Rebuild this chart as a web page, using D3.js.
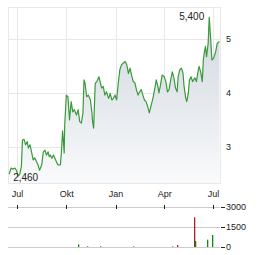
<!DOCTYPE html>
<html><head><meta charset="utf-8">
<script src="https://cdn.jsdelivr.net/npm/d3@7"></script>
<style>
body{margin:0;background:#fff}
svg{display:block;font-family:"Liberation Sans",Arial,sans-serif}
</style></head>
<body><svg id="c" width="264" height="255"></svg>
<script>
const priceDates = ["2023-06-16","2023-06-20","2023-06-23","2023-06-27","2023-06-30","2023-07-03","2023-07-06","2023-07-09","2023-07-11","2023-07-14",
"2023-07-17","2023-07-20","2023-07-22","2023-07-25","2023-07-28","2023-07-31","2023-08-03","2023-08-06","2023-08-09","2023-08-12",
"2023-08-16","2023-08-19","2023-08-22","2023-08-25","2023-08-28","2023-08-30","2023-09-01","2023-09-04","2023-09-07","2023-09-11",
"2023-09-15","2023-09-20","2023-09-22","2023-09-24","2023-09-25","2023-09-27","2023-09-28","2023-10-01","2023-10-04","2023-10-07",
"2023-10-10","2023-10-13","2023-10-16","2023-10-20","2023-10-23","2023-10-26","2023-10-29","2023-11-01","2023-11-03","2023-11-05",
"2023-11-08","2023-11-11","2023-11-15","2023-11-18","2023-11-19","2023-11-21","2023-11-24","2023-11-27","2023-12-01","2023-12-03",
"2023-12-06","2023-12-09","2023-12-12","2023-12-15","2023-12-19","2023-12-22","2023-12-25","2023-12-28","2023-12-31","2024-01-03",
"2024-01-06","2024-01-09","2024-01-12","2024-01-15","2024-01-19","2024-01-22","2024-01-25","2024-01-28","2024-01-31","2024-02-03",
"2024-02-06","2024-02-09","2024-02-12","2024-02-15","2024-02-18","2024-02-21","2024-02-24","2024-02-27","2024-03-01","2024-03-04",
"2024-03-07","2024-03-11","2024-03-15","2024-03-17","2024-03-20","2024-03-22","2024-03-25","2024-03-28","2024-04-01","2024-04-04",
"2024-04-07","2024-04-10","2024-04-13","2024-04-16","2024-04-19","2024-04-22","2024-04-25","2024-04-27","2024-04-30","2024-05-03",
"2024-05-06","2024-05-08","2024-05-11","2024-05-13","2024-05-16","2024-05-18","2024-05-21","2024-05-24","2024-05-28","2024-05-31",
"2024-06-03","2024-06-05","2024-06-08","2024-06-11","2024-06-13","2024-06-15","2024-06-17","2024-06-19","2024-06-22","2024-06-24",
"2024-06-27","2024-06-29","2024-07-02","2024-07-06","2024-07-09","2024-07-13"];
const priceValues = [2.50,2.61,2.59,2.61,2.56,2.46,2.50,2.64,3.13,3.14,
3.04,3.10,2.98,3.04,2.91,2.76,2.80,2.73,2.67,2.57,
2.67,2.91,2.94,2.85,2.91,2.82,2.85,2.79,2.85,2.76,
2.67,2.67,2.94,3.30,3.17,2.89,3.41,3.96,3.93,3.50,
3.84,3.65,3.69,3.59,3.69,3.47,3.44,3.62,4.24,4.18,
3.93,3.96,3.87,3.62,3.47,3.35,4.18,4.21,4.30,4.21,
4.09,4.12,3.96,4.02,3.90,3.99,3.87,3.90,3.96,3.87,
4.18,4.43,4.52,4.55,4.58,4.52,4.36,4.46,4.33,4.21,
4.19,4.06,3.96,4.02,4.06,3.96,3.87,3.84,3.75,3.63,
3.75,3.91,4.12,4.24,4.12,4.00,4.15,4.33,4.30,4.21,
4.02,4.06,4.24,4.39,4.28,4.09,4.02,4.30,4.43,4.46,
4.37,4.12,3.91,3.84,4.00,4.24,4.30,4.21,4.28,4.21,
4.39,4.49,4.39,4.21,4.61,4.76,4.86,4.67,4.92,5.40,
4.95,4.61,4.64,4.76,4.92,4.95];

const volDates = ["2023-10-23","2023-11-08","2023-12-02","2024-02-02","2024-04-16","2024-04-25","2024-05-27","2024-05-29","2024-06-20","2024-06-30"];
const volValues = [200,50,50,40,40,150,2230,450,550,900];
const volDirection = ["up","up","down","down","down","down","down","up","up","up"];

const xTickDates = ["2023-07-01","2023-10-01","2024-01-01","2024-04-01","2024-07-01"];
const xTickLabels = ["Jul","Okt","Jan","Apr","Jul"];
const yTicks = [3,4,5];
const volTicks = [0,1500,3000];
const volTickLabels = ["0","1500","3000"];
const highLabel = "5,400";
const lowLabel = "2,460";

const parse = d3.timeParse("%Y-%m-%d");
const data = priceDates.map((d,i)=>({date:parse(d), v:priceValues[i]}));
const vols = volDates.map((d,i)=>({date:parse(d), v:volValues[i], dir:volDirection[i]}));
const tickDates = xTickDates.map(parse);

const L=8, R=221, T=7, B=184;
const x = d3.scaleTime().domain([parse("2023-06-14"), parse("2024-07-16")]).range([L,R]);
const y = d3.scaleLinear().domain([2.315,5.59]).range([B,T]);
const vy = d3.scaleLinear().domain([0,3000]).range([247,207]);

const svg = d3.select("#c");
const defs = svg.append("defs");
const grad = defs.append("linearGradient").attr("id","g").attr("x1",0).attr("y1",0).attr("x2",0).attr("y2",1)
  .attr("gradientUnits","userSpaceOnUse").attr("y1",T).attr("y2",B).attr("x1",0).attr("x2",0);
grad.append("stop").attr("offset","0%").attr("stop-color","#cdd5de");
grad.append("stop").attr("offset","100%").attr("stop-color","#f9fafb");

const gridCol = "#e8e8e8";
// vertical grid
svg.append("g").selectAll("line").data(tickDates).join("line")
  .attr("x1",d=>Math.round(x(d))+0.5).attr("x2",d=>Math.round(x(d))+0.5)
  .attr("y1",T).attr("y2",B).attr("stroke",gridCol);
// horizontal grid
svg.append("g").selectAll("line").data(yTicks).join("line")
  .attr("x1",L).attr("x2",R).attr("y1",d=>Math.round(y(d))+0.5).attr("y2",d=>Math.round(y(d))+0.5)
  .attr("stroke",gridCol);

// area
svg.append("path").datum(data)
  .attr("d", d3.area().x(d=>x(d.date)).y0(B).y1(d=>y(d.v)))
  .attr("fill","url(#g)");
// border
svg.append("rect").attr("x",L+0.5).attr("y",T+0.5).attr("width",R-L-1).attr("height",B-T-1)
  .attr("fill","none").attr("stroke",gridCol);
// line
svg.append("path").datum(data)
  .attr("d", d3.line().x(d=>x(d.date)).y(d=>y(d.v)))
  .attr("fill","none").attr("stroke","#3a9a3a").attr("stroke-width",1.2).attr("stroke-linejoin","round");

// high / low labels
const hi = data.reduce((a,b)=>b.v>a.v?b:a);
const lo = data.reduce((a,b)=>b.v<a.v?b:a);
svg.append("text").attr("x",x(hi.date)-5).attr("y",y(hi.v)+3).attr("text-anchor","end")
  .attr("font-size",10).attr("fill","#222").text(highLabel);
svg.append("text").attr("x",x(lo.date)-5).attr("y",y(lo.v)+5).attr("text-anchor","start")
  .attr("font-size",10).attr("fill","#222").text(lowLabel);

// x axis labels
const xa = svg.append("g").attr("transform",`translate(0,${B+2})`)
  .call(d3.axisBottom(x).tickValues(tickDates).tickFormat((d,i)=>xTickLabels[i]).tickSize(0).tickPadding(5));
xa.select(".domain").remove();
xa.selectAll("text").attr("font-size",9).attr("fill","#222").attr("font-family","'Liberation Sans',Arial,sans-serif");

// y axis labels
const ya = svg.append("g").attr("transform",`translate(${R},0)`)
  .call(d3.axisRight(y).tickValues(yTicks).tickFormat(d3.format("d")).tickSize(0).tickPadding(5));
ya.select(".domain").remove();
ya.selectAll("text").attr("font-size",9).attr("fill","#222").attr("font-family","'Liberation Sans',Arial,sans-serif");

// volume grid
svg.append("g").selectAll("line").data(volTicks).join("line")
  .attr("x1",L).attr("x2",220).attr("y1",d=>Math.round(vy(d))+0.5).attr("y2",d=>Math.round(vy(d))+0.5)
  .attr("stroke","#cccccc");
// tick marks on volume top line
svg.append("g").selectAll("line").data(tickDates).join("line")
  .attr("x1",d=>Math.round(x(d))+0.5).attr("x2",d=>Math.round(x(d))+0.5)
  .attr("y1",vy(3000)-2).attr("y2",vy(3000)+2).attr("stroke","#222");
// volume bars
svg.append("g").selectAll("rect").data(vols).join("rect")
  .attr("x",d=>Math.round(x(d.date))).attr("width",1.3)
  .attr("y",d=>vy(d.v)).attr("height",d=>vy(0)-vy(d.v))
  .attr("fill",d=>d.dir==="up"?"#118811":"#aa2222");
// volume axis
const va = svg.append("g").attr("transform",`translate(221,0)`)
  .call(d3.axisRight(vy).tickValues(volTicks).tickFormat((d,i)=>volTickLabels[i]).tickSize(4).tickPadding(1));
va.select(".domain").remove();
va.selectAll("line").attr("stroke","#222");
va.selectAll("text").attr("font-size",9).attr("fill","#222").attr("font-family","'Liberation Sans',Arial,sans-serif");
</script></body></html>
